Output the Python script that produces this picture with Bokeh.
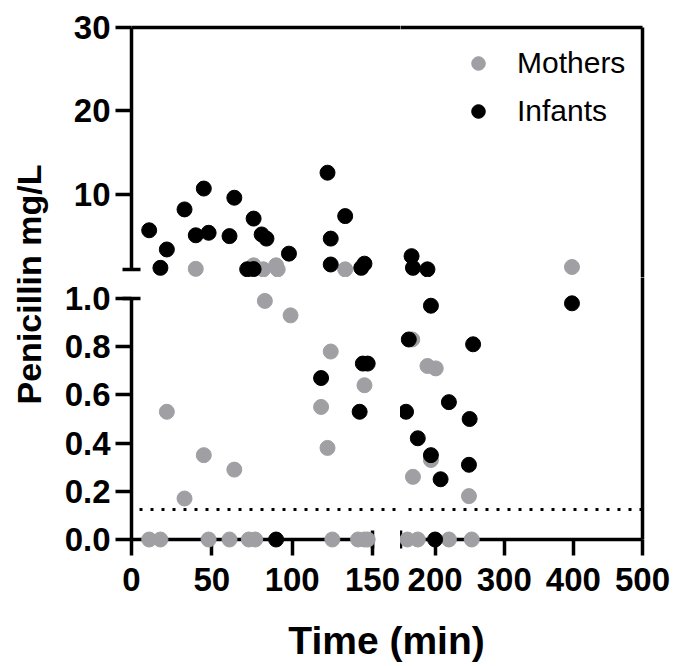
import math
from bokeh.plotting import figure
from bokeh.models import (Range1d, LinearAxis, FixedTicker, NumeralTickFormatter,
                          Span, Legend, LegendItem, Label, ColumnDataSource)
from bokeh.layouts import row, column
from bokeh.embed import file_html
from bokeh.resources import INLINE

# ---------------- data ----------------
mothers_time = [40, 76, 82, 90, 91, 133, 398,
                83, 99, 124, 145, 118, 122, 22, 45, 64, 33,
                167, 189, 201, 194, 168, 249,
                11, 18, 48, 61, 73, 77, 125, 141, 145, 147,
                160, 175, 220, 253]
mothers_conc = [1.08, 1.5, 1.02, 1.5, 1.02, 1.02, 1.3,
                0.99, 0.93, 0.78, 0.64, 0.55, 0.38, 0.53, 0.35, 0.29, 0.17,
                0.83, 0.72, 0.71, 0.33, 0.26, 0.18,
                0, 0, 0, 0, 0, 0, 0, 0, 0, 0,
                0, 0, 0, 0]
infants_time = [11, 22, 18, 33, 45, 40, 48, 64, 61, 76, 81, 84, 72, 76, 98,
                122, 133, 124, 124, 143, 145, 166, 168, 189,
                194, 398, 162, 255, 220, 158, 250, 175, 194, 208, 249, 200,
                118, 144, 147, 142, 90]
infants_conc = [5.7, 3.4, 1.2, 8.2, 10.7, 5.1, 5.4, 9.6, 5.0, 7.1, 5.2, 4.7, 1.03, 1.05, 2.9,
                12.6, 7.4, 4.7, 1.6, 1.2, 1.7, 2.6, 1.2, 1.02,
                0.97, 0.98, 0.83, 0.81, 0.57, 0.53, 0.50, 0.42, 0.35, 0.25, 0.31, 0.0,
                0.67, 0.73, 0.73, 0.53, 0.0]

x_break = 150
y_break = 1.0
x_max = 500
y_max = 30
loq = 0.125
x_ticks_left = [0, 50, 100, 150]
x_ticks_right = [200, 300, 400, 500]
y_ticks_bottom = [0, 0.2, 0.4, 0.6, 0.8, 1.0]
y_ticks_top = [10, 20, 30]
series_labels = ["Mothers", "Infants"]
x_title = "Time (min)"
y_title = "Penicillin mg/L"

# ---------------- layout (page pixels) ----------------
PX_X0, PX_XB1, PX_XB2, PX_X1, PX_XS = 131, 372, 400, 642, 400
PX_Y0, PX_YB1, PX_YB2, PX_Y1, PX_YS = 27, 269, 298, 539, 277
LEFT_W = 55                  # y-title strip
BORDER_L = PX_X0 - LEFT_W
BORDER_R = 678 - PX_X1
BORDER_T = PX_Y0
BORDER_B = 610 - PX_Y1
XT_H = 662 - 610

sx_l = (PX_XB1 - PX_X0) / x_break
xr_left = Range1d(0, (PX_XS - PX_X0) / sx_l)
sx_r = (PX_X1 - PX_XB2) / (x_max - x_break)
xr_right = Range1d(x_break - (PX_XB2 - PX_XS) / sx_r, x_max)
sy_t = (PX_YB1 - PX_Y0) / (y_max - y_break)
yr_top = Range1d(y_break - (PX_YS - PX_YB1) / sy_t, y_max)
sy_b = (PX_Y1 - PX_YB2) / y_break
yr_bot = Range1d(0, y_break + (PX_YB2 - PX_YS) / sy_b)

GRAY = "#a0a0a4"
BLACK = "#000000"
FONT = "Liberation Sans"
LW = 3.5


def make_fig(w, h, xr, yr, **borders):
    p = figure(width=w, height=h, x_range=xr, y_range=yr,
               output_backend="svg", toolbar_location=None,
               x_axis_location=None, y_axis_location=None,
               min_border=0, **borders)
    p.grid.visible = False
    p.outline_line_color = None
    p.background_fill_color = "white"
    p.border_fill_color = "white"
    return p


def data_axis(ticks, caps, bounds, fmt=None, standoff=5):
    ax = LinearAxis(ticker=FixedTicker(ticks=ticks, minor_ticks=caps), bounds=bounds)
    ax.axis_line_width = LW
    ax.major_tick_line_width = LW
    ax.minor_tick_line_width = LW
    ax.major_tick_in = 0
    ax.major_tick_out = 16
    ax.minor_tick_in = 9
    ax.minor_tick_out = 9
    ax.major_label_text_font = FONT
    ax.major_label_text_font_style = "bold"
    ax.major_label_text_font_size = "33px"
    ax.major_label_text_color = "black"
    ax.major_label_standoff = standoff
    if fmt is not None:
        ax.formatter = fmt
    return ax


def frame_line():
    ax = LinearAxis(ticker=FixedTicker(ticks=[]))
    ax.axis_line_width = LW
    ax.major_tick_out = 0
    ax.major_tick_in = 0
    ax.minor_tick_out = 0
    ax.minor_tick_in = 0
    ax.major_label_text_font_size = "0px"
    return ax


def panel_data(times, concs, left, top):
    xs, ys = [], []
    for t, c in zip(times, concs):
        if (t <= x_break) == left and (c > y_break) == top:
            xs.append(t)
            ys.append(c)
    return ColumnDataSource(dict(x=xs, y=ys))


W_L = BORDER_L + (PX_XS - PX_X0)
W_R = (PX_X1 - PX_XS) + BORDER_R
H_T = BORDER_T + (PX_YS - PX_Y0)
H_B = (PX_Y1 - PX_YS) + BORDER_B

tl = make_fig(W_L, H_T, xr_left, yr_top, min_border_left=BORDER_L, min_border_top=BORDER_T)
tr = make_fig(W_R, H_T, xr_right, yr_top, min_border_right=BORDER_R, min_border_top=BORDER_T)
bl = make_fig(W_L, H_B, xr_left, yr_bot, min_border_left=BORDER_L, min_border_bottom=BORDER_B)
br = make_fig(W_R, H_B, xr_right, yr_bot, min_border_right=BORDER_R, min_border_bottom=BORDER_B)

# axes
tl.add_layout(data_axis(y_ticks_top, [y_break], (y_break, y_max)), "left")
tl.add_layout(frame_line(), "above")
tr.add_layout(frame_line(), "above")
tr.add_layout(frame_line(), "right")
bl.add_layout(data_axis(y_ticks_bottom, [y_break], (0, y_break), NumeralTickFormatter(format="0.0")), "left")
bl.add_layout(data_axis(x_ticks_left, [x_break], (0, x_break), standoff=12), "below")
br.add_layout(data_axis(x_ticks_right, [x_break], (x_break, x_max), standoff=12), "below")
br.add_layout(frame_line(), "right")

# LOQ dotted line
for p in (bl, br):
    p.add_layout(Span(location=loq, dimension="width", line_color="black",
                      line_width=3, line_dash="3 8", line_dash_offset=-8))

renders = {}
for name, p, left, top in (("tl", tl, True, True), ("tr", tr, False, True),
                           ("bl", bl, True, False), ("br", br, False, False)):
    rm = p.scatter("x", "y", source=panel_data(mothers_time, mothers_conc, left, top),
                   size=15, color=GRAY, level="overlay")
    ri = p.scatter("x", "y", source=panel_data(infants_time, infants_conc, left, top),
                   size=15, color=BLACK, level="overlay")
    renders[name] = (rm, ri)

GLYPH = 34
legend = Legend(items=[LegendItem(label=series_labels[0], renderers=[renders["tr"][0]]),
                       LegendItem(label=series_labels[1], renderers=[renders["tr"][1]])],
                location=(478 - GLYPH // 2 - PX_XS,
                          PX_YS - (63 - GLYPH // 2 + 2 * GLYPH + 14)))
legend.border_line_color = None
legend.background_fill_alpha = 0
legend.padding = 0
legend.margin = 0
legend.spacing = 14
legend.glyph_width = GLYPH
legend.glyph_height = GLYPH
legend.label_standoff = 517 - (478 + GLYPH // 2)
legend.label_text_font = FONT
legend.label_text_font_size = "30px"
legend.label_text_color = "black"
tr.add_layout(legend)

# axis titles
H_LEFT = H_T + H_B
ytf = make_fig(LEFT_W, H_LEFT, Range1d(0, LEFT_W), Range1d(0, H_LEFT))
ytf.add_layout(Label(x=28, y=H_LEFT - 284, text=y_title, angle=math.pi / 2,
                     text_align="center", text_baseline="middle",
                     text_font=FONT, text_font_style="bold", text_font_size="34px",
                     text_color="black"))
xtf = make_fig(678, XT_H, Range1d(0, 678), Range1d(0, XT_H))
xtf.add_layout(Label(x=386, y=22, text=x_title,
                     text_align="center", text_baseline="alphabetic",
                     text_font=FONT, text_font_style="bold", text_font_size="39px",
                     text_color="black"))

layout = column(row(ytf, column(row(tl, tr), row(bl, br))), xtf)
open("out.html", "w").write(file_html(layout, INLINE))
